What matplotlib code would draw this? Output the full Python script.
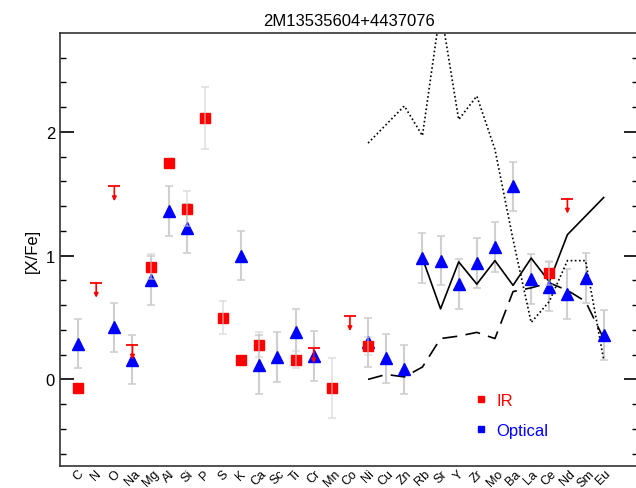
import matplotlib
matplotlib.use('Agg')
import matplotlib.pyplot as plt
import numpy as np

plt.rcParams['font.family'] = ['Liberation Sans', 'DejaVu Sans']

elements = ['C', 'N', 'O', 'Na', 'Mg', 'Al', 'Si', 'P', 'S', 'K', 'Ca', 'Sc', 'Ti', 'Cr', 'Mn',
            'Co', 'Ni', 'Cu', 'Zn', 'Rb', 'Sr', 'Y', 'Zr', 'Mo', 'Ba', 'La', 'Ce', 'Nd', 'Sm', 'Eu']

# IR measurements (red squares)
ir_el = ['C', 'Mg', 'Al', 'Si', 'P', 'S', 'K', 'Ca', 'Ti', 'Mn', 'Ni', 'Ce']
ir_val = [-0.07, 0.91, 1.75, 1.38, 2.11, 0.50, 0.16, 0.28, 0.16, -0.07, 0.27, 0.86]
ir_err = [0.0, 0.10, 0.0, 0.14, 0.25, 0.13, 0.0, 0.10, 0.07, 0.24, 0.07, 0.10]

# IR upper limits
lim_el = ['N', 'O', 'Na', 'Cr', 'Co', 'Nd']
lim_val = [0.78, 1.56, 0.28, 0.25, 0.51, 1.46]

# optical measurements (blue triangles)
opt_el = ['C', 'O', 'Na', 'Mg', 'Al', 'Si', 'K', 'Ca', 'Sc', 'Ti', 'Cr', 'Ni', 'Cu', 'Zn',
          'Rb', 'Sr', 'Y', 'Zr', 'Mo', 'Ba', 'La', 'Ce', 'Nd', 'Sm', 'Eu']
opt_val = [0.29, 0.42, 0.16, 0.80, 1.36, 1.22, 1.00, 0.12, 0.18, 0.38, 0.19, 0.30, 0.17, 0.08,
           0.98, 0.96, 0.77, 0.94, 1.07, 1.56, 0.81, 0.75, 0.69, 0.82, 0.36]
opt_err = [0.20, 0.20, 0.20, 0.20, 0.20, 0.20, 0.20, 0.24, 0.20, 0.19, 0.20, 0.20, 0.20, 0.20,
           0.20, 0.20, 0.20, 0.20, 0.20, 0.20, 0.20, 0.20, 0.20, 0.20, 0.20]

# model curves
solid_el = ['Rb', 'Sr', 'Y', 'Zr', 'Mo', 'Ba', 'La', 'Ce', 'Nd', 'Sm', 'Eu']
solid_val = [0.98, 0.57, 0.95, 0.77, 0.96, 0.76, 0.98, 0.79, 1.17, 1.32, 1.47]
model_el = ['Ni', 'Cu', 'Zn', 'Rb', 'Sr', 'Y', 'Zr', 'Mo', 'Ba', 'La', 'Ce', 'Nd', 'Sm', 'Eu']
dashed_val = [0.0, 0.04, 0.02, 0.10, 0.33, 0.35, 0.38, 0.33, 0.71, 0.74, 0.78, 0.72, 0.63, 0.33]
dotted_val = [1.91, 2.06, 2.21, 1.97, 3.0, 2.10, 2.29, 1.86, 1.13, 0.46, 0.63, 0.96, 0.96, 0.16]

pos = {e: i for i, e in enumerate(elements)}
errcol = '#cfcfcf'

fig = plt.figure(figsize=(6.36, 4.89), dpi=100)
ax = fig.add_axes([0.0943, 0.045, 0.909, 0.8855])

# model lines
ax.plot([pos[e] for e in solid_el], solid_val, color='black', lw=1.2, zorder=2)
ax.plot([pos[e] for e in model_el], dashed_val, color='black', lw=1.2, dashes=(9, 5), zorder=2)
ax.plot([pos[e] for e in model_el], dotted_val, color='black', lw=1.2, ls=(0, (1, 1.5)), zorder=2)

# optical
ox = [pos[e] for e in opt_el]
ax.errorbar(ox, opt_val, yerr=opt_err, fmt='none', ecolor=errcol, elinewidth=1.5, capsize=3,
            capthick=1.2, zorder=1)
ax.plot(ox, opt_val, '^', color='blue', ms=9, zorder=3)

# IR (error bars only where there is one)
rx = [pos[e] for e in ir_el]
ax.plot(rx, ir_val, 's', color='red', ms=7.5, zorder=3)
has_err = [i for i, err in enumerate(ir_err) if err > 0]
ax.errorbar([rx[i] for i in has_err], [ir_val[i] for i in has_err],
            yerr=[ir_err[i] for i in has_err], fmt='none', ecolor=errcol, elinewidth=1.2,
            capsize=3, capthick=1.2, zorder=4, alpha=0.6)

# upper limits
for e, v in zip(lim_el, lim_val):
    ax.plot(pos[e], v, '_', color='red', ms=8, mew=1.3, zorder=4)
    ax.annotate('', xy=(pos[e], v - 0.12), xytext=(pos[e], v),
                arrowprops=dict(arrowstyle='-|>', color='red', lw=1.2,
                                mutation_scale=6, shrinkA=0, shrinkB=0), zorder=4)

# legend
h1, = ax.plot([], [], 's', color='red', ms=5, label='IR')
h2, = ax.plot([], [], 's', color='blue', ms=5, label='Optical')
ax.legend(handles=[h1, h2], loc='upper left', bbox_to_anchor=(0.725, 0.225),
          bbox_transform=fig.transFigure, frameon=False, handlelength=0.6,
          handletextpad=0.6, labelspacing=0.9, fontsize=12, labelcolor='markerfacecolor')

ax.set_xlim(-1, 30.9)
ax.set_ylim(-0.7, 2.8)
ax.set_xticks(range(len(elements)))
ax.set_xticklabels(elements, rotation=45, fontsize=9, ha='center', va='top')
ax.tick_params(axis='x', length=0, pad=1)
ax.set_yticks([0, 1, 2])
ax.set_yticks(np.arange(-0.6, 2.8, 0.2), minor=True)
ax.tick_params(axis='y', which='both', direction='in', right=True, labelsize=12)
ax.tick_params(axis='y', which='major', length=10, width=1.2)
ax.tick_params(axis='y', which='minor', length=4, width=1.0)
for s in ax.spines.values():
    s.set_linewidth(1.2)
    s.set_color('#333333')

ax.set_ylabel('[X/Fe]', fontsize=12)
ax.set_title('2M13535604+4437076', fontsize=12)

fig.savefig('out.png', dpi=100)
